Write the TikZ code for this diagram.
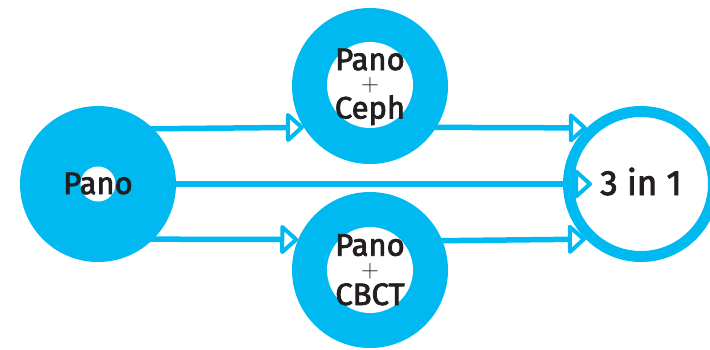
\documentclass[tikz,border=0pt]{standalone}
\usepackage{fontspec}
\setmainfont{Fira Sans}
\newfontfamily\labelfont{Fira Sans}[FakeBold=2.5]
\usetikzlibrary{arrows.meta}
\definecolor{sky}{HTML}{00B9F1}
\definecolor{ink}{HTML}{231F20}
\tikzset{
  disc/.style={circle, fill=sky, minimum size=156pt, inner sep=0pt, outer sep=0pt},
  hole/.style={circle, fill=white, inner sep=0pt, outer sep=0pt},
  ring/.style={circle, draw=sky, line width=11pt, fill=white, minimum size=145pt, inner sep=0pt, outer sep=5.5pt},
  txt/.style={text=ink, inner sep=0pt, font=\labelfont\fontsize{31}{31}\selectfont},
  upper/.style={txt, anchor=base, text depth=0pt},
  lower/.style={txt, anchor=base, text height=21pt},
  plussign/.style={text=ink, inner sep=0pt, font=\fontsize{28}{28}\selectfont},
  flow/.style={draw=sky, line width=5.5pt, -{Triangle[length=19pt,width=33pt,fill=white,line width=4pt,round]}},
}
\begin{document}
\begin{tikzpicture}[x=1pt,y=-1pt]
\useasboundingbox (0,0) rectangle (710,349);
% circles
\node[disc] (L) at (98,184) {};
\node[hole, minimum size=35pt] (Lh) at (98,184) {};
\node[disc] (T) at (370,86) {};
\node[hole, minimum size=86pt] (Th) at (370,85) {};
\node[disc] (B) at (370,270) {};
\node[hole, minimum size=86pt] (Bh) at (370,270) {};
\node[ring] (R) at (641,184) {};
% connectors
\draw[flow] ([xshift=-10pt]L.45.9) -- (T.212.6);
\draw[flow] ([xshift=-10pt]L.-45.9) -- (B.157.4);
\draw[flow] (L.east) -- ([xshift=29pt]R.west);
\draw[flow] ([xshift=-10pt]T.-32.6) -- (R.134.1);
\draw[flow] ([xshift=-10pt]B.22.6) -- (R.225.9);
% texts
\node[upper] (Lt) at (98,194) {Pano};
\node[upper] (T1) at (370,70) {Pano};
\node[plussign] (T2) at (370,85.5) {$+$};
\node[lower] (T3) at (370,118.5) {Ceph};
\node[upper] (B1) at (370,255.7) {Pano};
\node[plussign] (B2) at (370,271) {$+$};
\node[lower] (B3) at (370,305) {CBCT};
\node[upper, font=\labelfont\fontsize{35}{35}\selectfont] (Rt) at (641,195) {3 in 1};
\end{tikzpicture}
\end{document}
